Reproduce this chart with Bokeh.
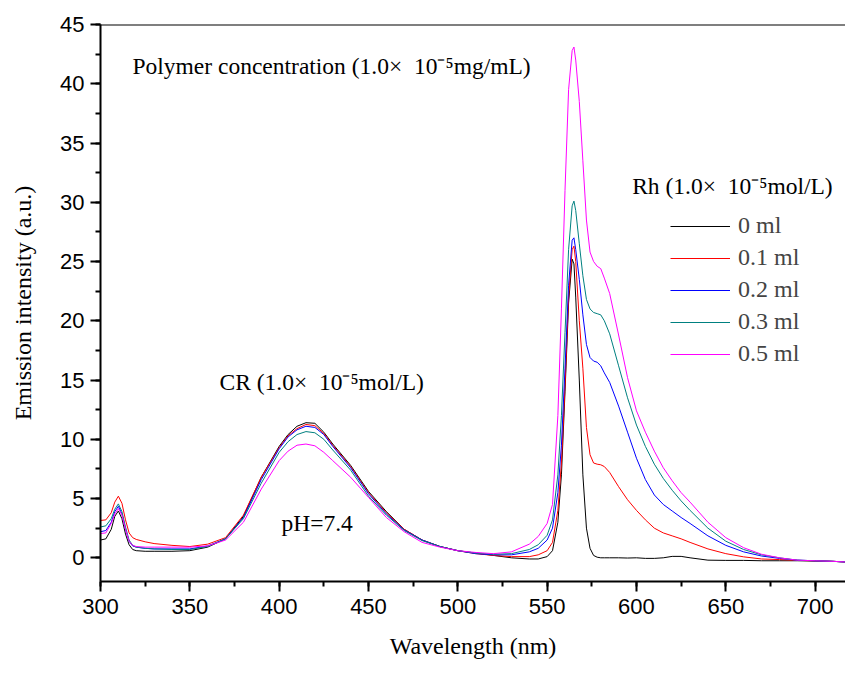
from bokeh.plotting import figure
from bokeh.models import (Range1d, SingleIntervalTicker, Legend, LegendItem, Label, Span)
from bokeh.embed import file_html
from bokeh.resources import INLINE

wavelength = [300,303,306,308,310,312,314,316,318,320,325,330,340,350,360,370,380,390,400,405,
              410,415,420,425,430,440,450,460,470,480,490,500,510,520,530,540,545,550,553,556,
              558,560,562,564,565,566,568,570,572,574,576,578,580,582,585,590,595,600,605,610,
              615,620,625,630,640,650,660,670,680,690,700,710,717]

rh_0_0 = [1.5,1.6,2.4,3.5,3.95,3.3,2.0,1.1,0.7,0.6,
          0.55,0.55,0.55,0.6,0.9,1.6,3.5,6.8,9.4,10.4,
          11.1,11.4,11.35,10.6,9.6,7.8,5.6,3.9,2.4,1.5,
          0.95,0.6,0.4,0.2,0.0,-0.1,-0.1,0.1,0.6,3.0,
          7.0,14.0,21.5,25.2,24.8,22.0,15.0,7.0,2.5,0.8,
          0.2,0.05,0.0,0.0,0.0,0.0,-0.02,0.0,-0.05,-0.05,
          0.0,0.12,0.12,0.0,-0.2,-0.22,-0.22,-0.25,-0.25,-0.25,
          -0.28,-0.3,-0.35]

rh_0_1 = [3.15,3.2,3.8,4.7,5.2,4.6,3.2,2.1,1.7,1.55,
          1.35,1.2,1.05,0.95,1.15,1.7,3.6,6.8,9.3,10.3,
          10.9,11.25,11.15,10.5,9.5,7.7,5.5,3.8,2.4,1.5,
          0.95,0.6,0.35,0.2,0.1,0.1,0.25,0.6,1.3,4.0,
          8.0,14.5,22.0,26.0,26.3,25.0,20.0,16.0,11.0,8.7,
          8.0,7.9,7.85,7.7,7.2,6.0,4.9,4.0,3.2,2.5,
          2.1,1.85,1.6,1.3,0.75,0.35,0.08,-0.1,-0.15,-0.22,
          -0.25,-0.3,-0.35]

rh_0_2 = [2.2,2.3,3.0,3.9,4.35,3.7,2.4,1.4,1.0,0.9,
          0.8,0.75,0.75,0.75,1.0,1.6,3.4,6.6,9.2,10.2,
          10.8,11.1,11.0,10.4,9.4,7.6,5.4,3.7,2.35,1.5,
          0.95,0.6,0.35,0.25,0.25,0.5,0.8,1.5,2.5,5.5,
          9.5,16.0,23.0,26.8,27.0,26.0,23.5,20.5,18.0,16.9,
          16.6,16.5,16.2,15.6,14.8,12.8,10.6,8.4,6.6,5.3,
          4.5,3.95,3.4,2.9,1.85,1.05,0.5,0.15,-0.05,-0.2,
          -0.25,-0.3,-0.35]

rh_0_3 = [2.6,2.7,3.3,4.1,4.55,3.9,2.6,1.5,1.05,0.9,
          0.8,0.75,0.7,0.7,0.95,1.6,3.3,6.3,8.9,9.8,
          10.4,10.65,10.55,10.0,9.1,7.4,5.2,3.6,2.3,1.45,
          0.95,0.6,0.4,0.3,0.35,0.7,1.1,1.9,3.2,7.0,
          12.0,19.0,26.0,29.7,30.1,29.3,26.5,23.8,21.8,21.0,
          20.7,20.6,20.5,20.0,18.9,16.2,13.5,11.2,9.4,7.9,
          6.7,5.7,4.8,4.0,2.5,1.4,0.7,0.25,0.0,-0.2,
          -0.25,-0.3,-0.35]

rh_0_5 = [2.05,2.1,2.9,3.7,4.15,3.6,2.4,1.4,1.05,0.95,
          0.9,0.9,0.9,0.9,1.0,1.5,3.0,5.8,8.2,9.0,
          9.5,9.6,9.45,8.9,8.2,6.8,5.1,3.4,2.2,1.3,
          0.9,0.6,0.45,0.35,0.5,1.15,1.8,2.9,4.5,12.0,
          21.0,31.0,39.5,42.8,43.1,42.0,38.5,33.5,28.5,25.8,
          25.0,24.6,24.4,23.6,22.3,18.8,15.2,12.4,10.6,9.0,
          7.6,6.5,5.5,4.7,3.0,1.7,0.85,0.3,0.0,-0.2,
          -0.25,-0.3,-0.35]

series_labels = ["0 ml", "0.1 ml", "0.2 ml", "0.3 ml", "0.5 ml"]
series_values = [rh_0_0, rh_0_1, rh_0_2, rh_0_3, rh_0_5]
series_colors = ["#000000", "#FF0000", "#0000FF", "#008080", "#FF00FF"]

SERIF = "Liberation Serif"
SANS = "Liberation Sans"

p = figure(width=845, height=665, output_backend="svg", toolbar_location=None,
           x_range=Range1d(300, 717), y_range=Range1d(-2, 45),
           min_border_left=100, min_border_right=0, min_border_top=24, min_border_bottom=84)
p.grid.visible = False
p.outline_line_color = None
p.background_fill_color = "white"
p.border_fill_color = "white"

p.xaxis.ticker = SingleIntervalTicker(interval=50, num_minor_ticks=2)
p.yaxis.ticker = SingleIntervalTicker(interval=5, num_minor_ticks=2)
for ax in (p.xaxis, p.yaxis):
    ax.axis_line_width = 2
    ax.major_tick_line_width = 2
    ax.minor_tick_line_width = 2
    ax.major_tick_out = 10
    ax.major_tick_in = 0
    ax.minor_tick_out = 5
    ax.minor_tick_in = 0
    ax.major_label_text_font = SANS
    ax.major_label_text_font_size = "22px"
    ax.major_label_text_color = "black"
    ax.axis_label_text_font = SERIF
    ax.axis_label_text_font_size = "24px"
    ax.axis_label_text_font_style = "normal"
    ax.axis_label_text_color = "black"
p.xaxis.axis_label = "Wavelength (nm)"
p.yaxis.axis_label = "Emission intensity (a.u.)"
p.xaxis.major_label_standoff = 7
p.yaxis.major_label_standoff = 6
p.xaxis.axis_label_standoff = 16
p.yaxis.axis_label_standoff = 21

p.add_layout(Span(location=45, dimension="width", line_color="black", line_width=2))

items = []
for lab, vals, col in zip(series_labels, series_values, series_colors):
    r = p.line(wavelength, vals, line_color=col, line_width=1)
    items.append(LegendItem(label=lab, renderers=[r]))

legend = Legend(items=items, location=(570, 214), orientation="vertical",
                glyph_width=60, glyph_height=20, label_height=20, spacing=5,
                padding=0, margin=0, border_line_color=None, background_fill_alpha=0,
                label_text_font=SERIF, label_text_font_size="24px", label_standoff=8)
p.add_layout(legend)

def add_text(x, y, t):
    p.add_layout(Label(x=x, y=y, text=t, text_font=SERIF, text_font_size="23.5px",
                       text_align="left", text_baseline="middle", text_color="black"))

add_text(317.9, 41.5, "Polymer concentration (1.0×\u00a0 10⁻⁵mg/mL)")
add_text(366.6, 14.8, "CR (1.0×\u00a0 10⁻⁵mol/L)")
add_text(401.3, 2.9, "pH=7.4")
add_text(597.6, 31.4, "Rh (1.0×\u00a0 10⁻⁵mol/L)")

open("out.html", "w").write(file_html(p, INLINE))
